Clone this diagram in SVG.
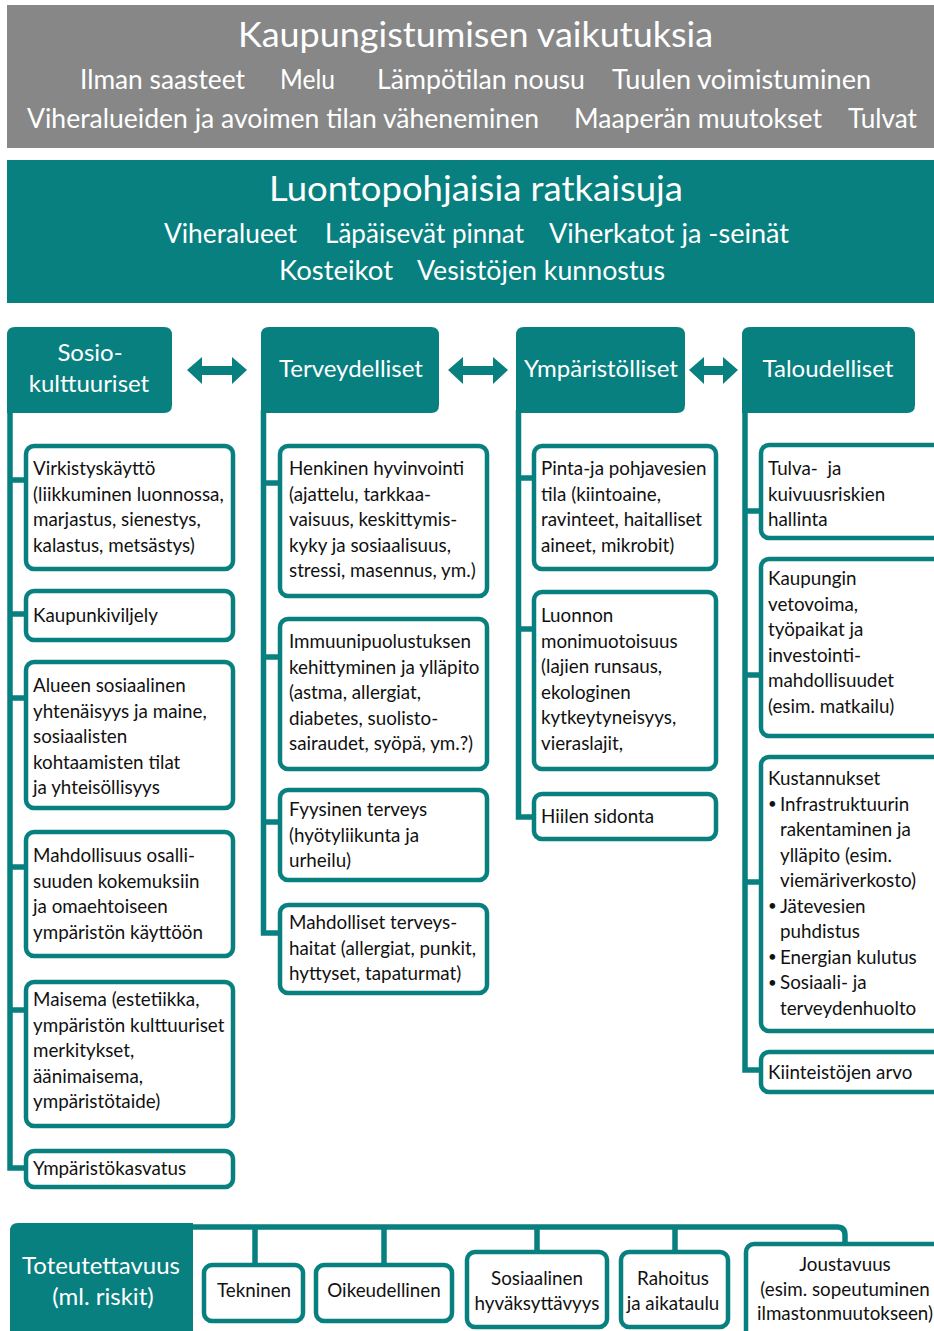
<svg xmlns="http://www.w3.org/2000/svg" width="934" height="1331" viewBox="0 0 934 1331">
<style>
.ban{font-family:Lato,"Liberation Sans",sans-serif;fill:#fff}
.t{font-family:Lato,"Liberation Sans",sans-serif;font-size:18.8px;fill:#111}
.h{font-family:Lato,"Liberation Sans",sans-serif;font-size:24px;fill:#fff;text-anchor:middle}
.bx{fill:#fff;stroke:#088080;stroke-width:4.5}
.hd{fill:#088080}
.ln{fill:none;stroke:#088080;stroke-width:5.5}
.ar{fill:#088080}
.c{text-anchor:middle}
.bu{font-size:15px}
</style>
<rect width="934" height="1331" fill="#fff"/>
<g id="banner-urbanization">
<rect x="7" y="5" width="927" height="143" fill="#878787"/>
<text class="ban" x="238" y="47" font-size="34" textLength="475" lengthAdjust="spacingAndGlyphs">Kaupungistumisen vaikutuksia</text>
<g font-size="26">
<text class="ban" x="80" y="89" textLength="165" lengthAdjust="spacingAndGlyphs">Ilman saasteet</text>
<text class="ban" x="280" y="89" textLength="55" lengthAdjust="spacingAndGlyphs">Melu</text>
<text class="ban" x="377" y="89" textLength="208" lengthAdjust="spacingAndGlyphs">Lämpötilan nousu</text>
<text class="ban" x="612" y="89" textLength="259" lengthAdjust="spacingAndGlyphs">Tuulen voimistuminen</text>
<text class="ban" x="27" y="128" textLength="512" lengthAdjust="spacingAndGlyphs">Viheralueiden ja avoimen tilan väheneminen</text>
<text class="ban" x="574" y="128" textLength="248" lengthAdjust="spacingAndGlyphs">Maaperän muutokset</text>
<text class="ban" x="848" y="128" textLength="69" lengthAdjust="spacingAndGlyphs">Tulvat</text>
</g>
</g>
<g id="banner-nbs">
<rect x="7" y="160" width="927" height="143" fill="#088080"/>
<text class="ban" x="269" y="201" font-size="34" textLength="414" lengthAdjust="spacingAndGlyphs">Luontopohjaisia ratkaisuja</text>
<g font-size="26">
<text class="ban" x="164" y="243" textLength="133" lengthAdjust="spacingAndGlyphs">Viheralueet</text>
<text class="ban" x="325" y="243" textLength="199" lengthAdjust="spacingAndGlyphs">Läpäisevät pinnat</text>
<text class="ban" x="549" y="243" textLength="240" lengthAdjust="spacingAndGlyphs">Viherkatot ja -seinät</text>
<text class="ban" x="279" y="280" textLength="114" lengthAdjust="spacingAndGlyphs">Kosteikot</text>
<text class="ban" x="417" y="280" textLength="248" lengthAdjust="spacingAndGlyphs">Vesistöjen kunnostus</text>
</g>
</g>

<g id="connectors">
<polygon class="ar" points="187,370 202,357 202,366 232,366 232,357 247,370 232,384 232,375 202,375 202,384"/>
<polygon class="ar" points="448,370 463,357 463,366 493,366 493,357 508,370 493,384 493,375 463,375 463,384"/>
<polygon class="ar" points="689,370 704,357 704,366 723,366 723,357 738,370 723,384 723,375 704,375 704,384"/>
<path class="ln" d="M10,410 V1168 H26 M10,480 H26 M10,614 H26 M10,698 H26 M10,867 H26 M10,1010 H26"/>
<path class="ln" d="M263.5,410 V933 H280 M263.5,483 H280 M263.5,657 H280 M263.5,822 H280"/>
<path class="ln" d="M518.5,410 V817 H534 M518.5,478 H534 M518.5,629 H534"/>
<path class="ln" d="M745,410 V1070 H761 M745,511 H761 M745,675 H761 M745,882 H761"/>
<path class="ln" d="M190,1227 H837 Q845,1227 845,1235 V1244 M255,1227 V1265 M384,1227 V1265 M537,1227 V1252 M675,1227 V1252"/>
</g>

<g id="head-sosio">
<path class="hd" d="M7,413 V335 Q7,327 15,327 H164 Q172,327 172,335 V405 Q172,413 164,413 Z"/>
<text class="h" x="90" y="361">Sosio-</text>
<text class="h" x="89" y="392">kulttuuriset</text>
</g>
<g id="head-terveys">
<path class="hd" d="M261,413 V335 Q261,327 269,327 H431 Q439,327 439,335 V405 Q439,413 431,413 Z"/>
<text class="h" x="351" y="377">Terveydelliset</text>
</g>
<g id="head-ymparisto">
<path class="hd" d="M516,413 V335 Q516,327 524,327 H677 Q685,327 685,335 V405 Q685,413 677,413 Z"/>
<text class="h" x="601" y="377">Ympäristölliset</text>
</g>
<g id="head-talous">
<path class="hd" d="M742,413 V335 Q742,327 750,327 H907 Q915,327 915,335 V405 Q915,413 907,413 Z"/>
<text class="h" x="828" y="377">Taloudelliset</text>
</g>

<g id="s1"><rect class="bx" x="26" y="446" width="207" height="123" rx="8"/>
<text class="t"><tspan x="33" y="475">Virkistyskäyttö</tspan><tspan x="33" y="500.5">(liikkuminen luonnossa,</tspan><tspan x="33" y="526">marjastus, sienestys,</tspan><tspan x="33" y="551.5">kalastus, metsästys)</tspan></text></g>
<g id="s2"><rect class="bx" x="26" y="591" width="207" height="49" rx="8"/>
<text class="t" x="33" y="622">Kaupunkiviljely</text></g>
<g id="s3"><rect class="bx" x="26" y="662" width="207" height="146" rx="8"/>
<text class="t"><tspan x="33" y="692">Alueen sosiaalinen</tspan><tspan x="33" y="717.5">yhtenäisyys ja maine,</tspan><tspan x="33" y="743">sosiaalisten</tspan><tspan x="33" y="768.5">kohtaamisten tilat</tspan><tspan x="33" y="794">ja yhteisöllisyys</tspan></text></g>
<g id="s4"><rect class="bx" x="26" y="832" width="207" height="124" rx="8"/>
<text class="t"><tspan x="33" y="862">Mahdollisuus osalli-</tspan><tspan x="33" y="887.5">suuden kokemuksiin</tspan><tspan x="33" y="913">ja omaehtoiseen</tspan><tspan x="33" y="938.5">ympäristön käyttöön</tspan></text></g>
<g id="s5"><rect class="bx" x="26" y="982" width="207" height="144" rx="8"/>
<text class="t"><tspan x="33" y="1006">Maisema (estetiikka,</tspan><tspan x="33" y="1031.5">ympäristön kulttuuriset</tspan><tspan x="33" y="1057">merkitykset,</tspan><tspan x="33" y="1082.5">äänimaisema,</tspan><tspan x="33" y="1108">ympäristötaide)</tspan></text></g>
<g id="s6"><rect class="bx" x="26" y="1151" width="207" height="36" rx="8"/>
<text class="t" x="33" y="1175">Ympäristökasvatus</text></g>

<g id="t1"><rect class="bx" x="280" y="446" width="207" height="150" rx="8"/>
<text class="t"><tspan x="289" y="475">Henkinen hyvinvointi</tspan><tspan x="289" y="500.5">(ajattelu, tarkkaa-</tspan><tspan x="289" y="526">vaisuus, keskittymis-</tspan><tspan x="289" y="551.5">kyky ja sosiaalisuus,</tspan><tspan x="289" y="577">stressi, masennus, ym.)</tspan></text></g>
<g id="t2"><rect class="bx" x="280" y="619" width="207" height="150" rx="8"/>
<text class="t"><tspan x="289" y="648">Immuunipuolustuksen</tspan><tspan x="289" y="673.5">kehittyminen ja ylläpito</tspan><tspan x="289" y="699">(astma, allergiat,</tspan><tspan x="289" y="724.5">diabetes, suolisto-</tspan><tspan x="289" y="750">sairaudet, syöpä, ym.?)</tspan></text></g>
<g id="t3"><rect class="bx" x="280" y="790" width="207" height="90" rx="8"/>
<text class="t"><tspan x="289" y="816">Fyysinen terveys</tspan><tspan x="289" y="841.5">(hyötyliikunta ja</tspan><tspan x="289" y="867">urheilu)</tspan></text></g>
<g id="t4"><rect class="bx" x="280" y="905" width="207" height="88" rx="8"/>
<text class="t"><tspan x="289" y="929">Mahdolliset terveys-</tspan><tspan x="289" y="954.5">haitat (allergiat, punkit,</tspan><tspan x="289" y="980">hyttyset, tapaturmat)</tspan></text></g>

<g id="y1"><rect class="bx" x="534" y="446" width="182" height="123" rx="8"/>
<text class="t"><tspan x="541" y="475">Pinta-ja pohjavesien</tspan><tspan x="541" y="500.5">tila (kiintoaine,</tspan><tspan x="541" y="526">ravinteet, haitalliset</tspan><tspan x="541" y="551.5">aineet, mikrobit)</tspan></text></g>
<g id="y2"><rect class="bx" x="534" y="592" width="182" height="177" rx="8"/>
<text class="t"><tspan x="541" y="622">Luonnon</tspan><tspan x="541" y="647.5">monimuotoisuus</tspan><tspan x="541" y="673">(lajien runsaus,</tspan><tspan x="541" y="698.5">ekologinen</tspan><tspan x="541" y="724">kytkeytyneisyys,</tspan><tspan x="541" y="749.5">vieraslajit,</tspan></text></g>
<g id="y3"><rect class="bx" x="534" y="794" width="182" height="45" rx="8"/>
<text class="t" x="541" y="823">Hiilen sidonta</text></g>

<g id="e1"><rect class="bx" x="761" y="445" width="190" height="93" rx="8"/>
<text class="t" xml:space="preserve"><tspan x="768" y="475">Tulva-  ja</tspan><tspan x="768" y="500.5">kuivuusriskien</tspan><tspan x="768" y="526">hallinta</tspan></text></g>
<g id="e2"><rect class="bx" x="761" y="559" width="190" height="177" rx="8"/>
<text class="t"><tspan x="768" y="585">Kaupungin</tspan><tspan x="768" y="610.5">vetovoima,</tspan><tspan x="768" y="636">työpaikat ja</tspan><tspan x="768" y="661.5">investointi-</tspan><tspan x="768" y="687">mahdollisuudet</tspan><tspan x="768" y="712.5">(esim. matkailu)</tspan></text></g>
<g id="e3"><rect class="bx" x="761" y="757" width="190" height="274" rx="8"/>
<text class="t"><tspan x="768" y="785">Kustannukset</tspan><tspan class="bu" x="768" y="809">•</tspan><tspan x="780" y="810.5">Infrastruktuurin</tspan><tspan x="780" y="836">rakentaminen ja</tspan><tspan x="780" y="861.5">ylläpito (esim.</tspan><tspan x="780" y="887">viemäriverkosto)</tspan><tspan class="bu" x="768" y="911">•</tspan><tspan x="780" y="912.5">Jätevesien</tspan><tspan x="780" y="938">puhdistus</tspan><tspan class="bu" x="768" y="962">•</tspan><tspan x="780" y="963.5">Energian kulutus</tspan><tspan class="bu" x="768" y="987.5">•</tspan><tspan x="780" y="989">Sosiaali- ja</tspan><tspan x="780" y="1014.5">terveydenhuolto</tspan></text></g>
<g id="e4"><rect class="bx" x="761" y="1052" width="190" height="40" rx="8"/>
<text class="t" x="768" y="1079">Kiinteistöjen arvo</text></g>

<g id="toteutettavuus">
<path class="hd" d="M10,1340 V1231 Q10,1223 18,1223 H193 V1340 Z"/>
<text class="h" x="101" y="1274" font-size="23">Toteutettavuus</text>
<text class="h" x="103" y="1305" font-size="23">(ml. riskit)</text>
</g>
<g id="f1"><rect class="bx" x="204" y="1265" width="99" height="56" rx="8"/>
<text class="t c" x="254" y="1297">Tekninen</text></g>
<g id="f2"><rect class="bx" x="316" y="1265" width="136" height="56" rx="8"/>
<text class="t c" x="384" y="1297">Oikeudellinen</text></g>
<g id="f3"><rect class="bx" x="467" y="1252" width="140" height="75" rx="8"/>
<text class="t c"><tspan x="537" y="1285">Sosiaalinen</tspan><tspan x="537" y="1310">hyväksyttävyys</tspan></text></g>
<g id="f4"><rect class="bx" x="621" y="1252" width="107" height="75" rx="8"/>
<text class="t c"><tspan x="673" y="1285">Rahoitus</tspan><tspan x="673" y="1310">ja aikataulu</tspan></text></g>
<g id="f5"><rect class="bx" x="746" y="1244" width="200" height="100" rx="8"/>
<text class="t c"><tspan x="845" y="1271">Joustavuus</tspan><tspan x="845" y="1296">(esim. sopeutuminen</tspan><tspan x="845" y="1320">ilmastonmuutokseen)</tspan></text></g>
</svg>
